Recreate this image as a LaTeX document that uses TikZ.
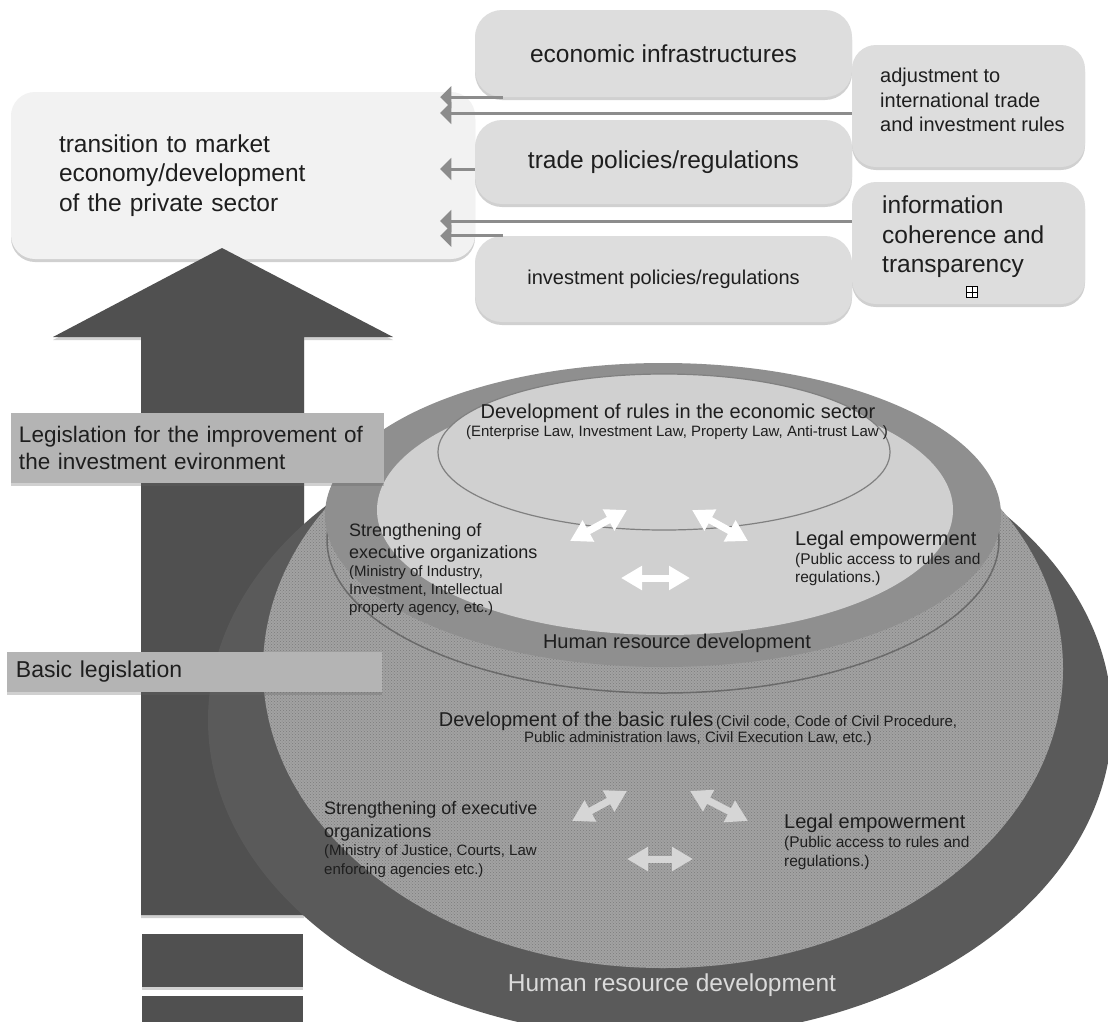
\documentclass[tikz,border=0pt]{standalone}
\usepackage{fontspec}
\setmainfont{Liberation Sans}
\usetikzlibrary{arrows,arrows.meta}
\usetikzlibrary{shadows,patterns}

\definecolor{shaftgray}{HTML}{505050}
\definecolor{ringgray}{HTML}{5A5A5A}
\definecolor{grainy}{HTML}{A2A2A2}
\definecolor{grain}{HTML}{7C7C7C}
\definecolor{bandgray}{HTML}{8F8F8F}
\definecolor{palegray}{HTML}{D0D0D0}
\definecolor{rimgray}{HTML}{6A6A6A}
\definecolor{boxgray}{HTML}{DDDDDD}
\definecolor{goalgray}{HTML}{F2F2F2}
\definecolor{taggray}{HTML}{B4B4B4}
\definecolor{feedgray}{HTML}{8C8C8C}
\definecolor{inkgray}{HTML}{1E1E1E}

\begin{document}
\begin{tikzpicture}[x=1pt,y=-1pt,
		every node/.style={inner sep=0pt,text=inkgray},
		softshadow/.style={drop shadow={opacity=0.3,shadow xshift=0pt,shadow yshift=-3pt,fill=black!60}},
		goalbox/.style={fill=goalgray,rounded corners=24pt,softshadow,minimum width=464pt,minimum height=167pt,text width=368pt,align=left},
		fieldbox/.style={fill=boxgray,rounded corners=27pt,softshadow,minimum width=377pt},
		sidebox/.style={fill=boxgray,rounded corners=24pt,softshadow,minimum width=233pt,minimum height=122pt},
		tagbox/.style={fill=taggray,softshadow,text width=357pt,align=left},
		feed/.style={draw=feedgray,line width=3pt,-triangle 90},
		twoway/.style={draw=white,line width=7pt,{Triangle[length=21pt,width=23pt]}-{Triangle[length=21pt,width=23pt]}},
		big/.style={font=\fontsize{24.5}{29.5}\selectfont},
		head/.style={font=\fontsize{20}{24}\selectfont},
		lead/.style={font=\fontsize{18}{22.5}\selectfont,align=left},
		note/.style={font=\fontsize{15}{18.5}\selectfont,align=left}]
		
		\fill[white] (0,0) rectangle (1108,1021);
		\useasboundingbox (0,0) rectangle (1108,1021);
		
		% goal and the fields feeding it
		\node[goalbox,big] (trans) at (243,175.5) {transition to market\\economy/development\\of the private sector};
		\node[fieldbox,big,minimum height=87pt] (eco) at (663.5,53.5) {economic infrastructures};
		\node[fieldbox,big,minimum height=84pt] (trade) at (663.5,162) {trade policies/regulations};
		\node[fieldbox,head,minimum height=86pt] (inv) at (663.5,279) {investment policies/regulations};
		\node[sidebox] (adj) at (968.5,106) {};
		\node[sidebox] (info) at (968.5,243) {};
		\node[right,font=\fontsize{20}{24.5}\selectfont,align=left] (adjtext) at (880,100) {adjustment to\\international trade\\and investment rules};
		\node[right,big,align=left] (infotext) at (882,237) {information\\coherence and\\transparency};
		\node[draw=black,line width=0.6pt,fill=white,minimum size=11pt] (plusbox) at (972,292) {};
		\draw[line width=0.6pt] (plusbox.north) -- (plusbox.south) (plusbox.west) -- (plusbox.east);
		
		\coordinate (tipx) at ([xshift=-35pt]trans.east);
		\coordinate (in1) at ([xshift=28pt]eco.south west);
		\coordinate (in2) at ([yshift=-7pt]adj.west);
		\coordinate (in3) at ([yshift=-7pt]trade.west);
		\coordinate (in4) at ([yshift=22pt]info.west);
		\coordinate (in5) at ([xshift=28pt]inv.north west);
		\foreach \i in {1,...,5}
			\draw[feed] (in\i) -- (tipx |- in\i);
		
		% big arrow
		\fill[shaftgray,softshadow] (141,915) -- (141,337) -- (53,337) -- (222,248) -- (393,337) -- (304,337) -- (304,915) -- cycle;
		\fill[shaftgray,softshadow] (142,934) rectangle (303,987);
		\fill[shaftgray,softshadow] (142,996) rectangle (303,1040);
		
		% the two tiers
		\fill[ringgray] (660,720) ellipse [x radius=452,y radius=318];
		\fill[grainy] (663,669) ellipse [x radius=400,y radius=299];
		\fill[pattern=crosshatch dots,pattern color=grain] (663,669) ellipse [x radius=400,y radius=299];
		\draw[rimgray,line width=1.5pt] (663,540) ellipse [x radius=336,y radius=153];
		\fill[bandgray] (663,515) ellipse [x radius=338,y radius=152];
		\fill[palegray] (665,510) ellipse [x radius=288,y radius=125];
		\filldraw[fill=palegray,draw=rimgray!85,line width=1.2pt] (664,452) ellipse [x radius=226,y radius=78];
		
		\node[tagbox,font=\fontsize{22.5}{26.5}\selectfont,minimum width=373pt,minimum height=70pt] (legis) at (197.5,448) {Legislation for the improvement of\\the investment evironment};
		\node[tagbox,font=\fontsize{23}{27}\selectfont,minimum width=375pt,minimum height=40pt] (basic) at (194.5,672) {Basic legislation};
		
		% upper tier
		\node[head] (econrules) at (678,413) {Development of rules in the economic sector};
		\node[note] (econlaws) at (677,433) {(Enterprise Law, Investment Law, Property Law, Anti-trust Law )};
		\node[right,lead] (execup) at (349,543) {Strengthening of\\executive organizations};
		\node[right,note,font=\fontsize{15}{18}\selectfont] (execupsub) at (349,591) {(Ministry of Industry,\\Investment, Intellectual\\property agency, etc.)};
		\node[right,head] (legalup) at (795,540) {Legal empowerment};
		\node[right,note,font=\fontsize{15.5}{18}\selectfont] (legalupsub) at (795,569) {(Public access to rules and\\regulations.)};
		\node[head] (hrdup) at (677,643) {Human resource development};
		\draw[twoway] (570,541) -- (627,510);
		\draw[twoway] (692,510) -- (748,541);
		\draw[twoway] (621,578) -- (690,578);
		
		% lower tier
		\node (basicrules) at (698,721) {{\fontsize{20}{24}\selectfont Development of the basic rules} {\fontsize{15}{18}\selectfont (Civil code, Code of Civil Procedure,}};
		\node[note] (basiclaws) at (698,739) {Public administration laws, Civil Execution Law, etc.)};
		\node[right,lead,font=\fontsize{18}{23}\selectfont] (execlow) at (324,821.5) {Strengthening of executive\\organizations};
		\node[right,note,font=\fontsize{15}{19}\selectfont] (execlowsub) at (324,861.5) {(Ministry of Justice, Courts, Law\\enforcing agencies etc.)};
		\node[right,head] (legallow) at (784,823) {Legal empowerment};
		\node[right,note,font=\fontsize{15.5}{19}\selectfont] (legallowsub) at (784,852.5) {(Public access to rules and\\regulations.)};
		\node[big,text=white!86!black] (hrdlow) at (672,985) {Human resource development};
		\draw[twoway,draw=white!84!black] (572,821) -- (627,791);
		\draw[twoway,draw=white!84!black] (690,791) -- (748,821);
		\draw[twoway,draw=white!84!black] (627,859) -- (693,859);
		
	\end{tikzpicture}
\end{document}
